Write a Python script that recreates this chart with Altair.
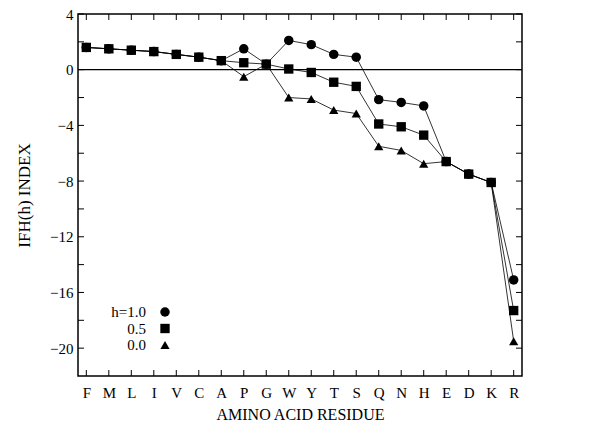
import altair as alt
import pandas as pd

residues = ["F", "M", "L", "I", "V", "C", "A", "P", "G", "W",
            "Y", "T", "S", "Q", "N", "H", "E", "D", "K", "R"]
h10 = [1.6, 1.5, 1.4, 1.3, 1.1, 0.9, 0.65, 1.5, 0.4, 2.1,
       1.8, 1.1, 0.9, -2.15, -2.35, -2.6, -6.6, -7.5, -8.1, -15.1]
h05 = [1.6, 1.5, 1.4, 1.3, 1.1, 0.9, 0.65, 0.5, 0.4, 0.05,
       -0.2, -0.9, -1.2, -3.9, -4.1, -4.7, -6.6, -7.5, -8.1, -17.3]
h00 = [1.6, 1.5, 1.4, 1.3, 1.1, 0.9, 0.65, -0.5, 0.4, -2.0,
       -2.1, -2.9, -3.15, -5.5, -5.8, -6.75, -6.6, -7.5, -8.1, -19.5]
h_levels = ["1.0", "0.5", "0.0"]
legend_labels = ["h=1.0", "0.5", "0.0"]
y_labels = [4, 0, -4, -8, -12, -16, -20]
y_minor = [4, 2, 0, -2, -4, -6, -8, -10, -12, -14, -16, -18, -20]

W, H = 444, 362
FONT = "Liberation Serif"

rows = []
for lvl, vals in zip(h_levels, [h10, h05, h00]):
    for r, v in zip(residues, vals):
        rows.append({"residue": r, "value": v, "h": lvl})
df = pd.DataFrame(rows)

xscale = alt.Scale(type="point", domain=residues, padding=0.37)
yscale = alt.Scale(domain=[-22, 4], nice=False, zero=False)
shape_scale = alt.Scale(domain=h_levels, range=["circle", "square", "triangle-up"])
size_scale = alt.Scale(domain=h_levels, range=[90, 85, 135])

xenc = alt.X("residue:N", scale=xscale, sort=residues,
             axis=alt.Axis(title="AMINO ACID RESIDUE", labelAngle=0, ticks=False,
                           domain=False, labelPadding=9, titlePadding=6,
                           labelFont=FONT, labelFontSize=15, titleFont=FONT,
                           titleFontSize=16, titleFontWeight="normal",
                           labelColor="black", titleColor="black"))
yenc = alt.Y("value:Q", scale=yscale,
             axis=alt.Axis(title="IFH(h) INDEX", values=y_labels, ticks=False,
                           domain=False, grid=False, labelPadding=5, titlePadding=16,
                           labelFont=FONT, labelFontSize=15, titleFont=FONT,
                           titleFontSize=17, titleFontWeight="normal",
                           labelColor="black", titleColor="black"))

base = alt.Chart(df)
lines = base.mark_line(color="black", strokeWidth=0.8).encode(
    x=xenc, y=yenc, detail="h:N")
points = base.mark_point(filled=True, color="black", opacity=1).encode(
    x=alt.X("residue:N", scale=xscale, sort=residues),
    y=alt.Y("value:Q", scale=yscale),
    shape=alt.Shape("h:N", scale=shape_scale, legend=None),
    size=alt.Size("h:N", scale=size_scale, legend=None))

zero = alt.Chart(pd.DataFrame({"value": [0]})).mark_rule(
    color="black", strokeWidth=1.2).encode(y=alt.Y("value:Q", scale=yscale))

ydf = pd.DataFrame({"value": y_minor})
lt = alt.Chart(ydf).mark_rule(color="black", strokeWidth=1).encode(
    y=alt.Y("value:Q", scale=yscale), x=alt.value(0), x2=alt.value(6))
rt = alt.Chart(ydf).mark_rule(color="black", strokeWidth=1).encode(
    y=alt.Y("value:Q", scale=yscale), x=alt.value(W - 6), x2=alt.value(W))

xdf = pd.DataFrame({"residue": residues})
bt = alt.Chart(xdf).mark_rule(color="black", strokeWidth=1).encode(
    x=alt.X("residue:N", scale=xscale, sort=residues), y=alt.value(H - 6), y2=alt.value(H))
tt = alt.Chart(xdf).mark_rule(color="black", strokeWidth=1).encode(
    x=alt.X("residue:N", scale=xscale, sort=residues), y=alt.value(0), y2=alt.value(6))

ldf = pd.DataFrame({"label": legend_labels, "h": h_levels, "i": [0, 1, 2]})
leg = alt.Chart(ldf).transform_calculate(py="298 + 16.5 * datum.i")
leg_text = leg.mark_text(align="right", baseline="middle", font=FONT, fontSize=15,
                         color="black").encode(
    x=alt.value(68), y=alt.Y("py:Q", scale=None), text="label:N")
leg_pts = leg.mark_point(filled=True, color="black", opacity=1).encode(
    x=alt.value(87), y=alt.Y("py:Q", scale=None),
    shape=alt.Shape("h:N", scale=shape_scale, legend=None),
    size=alt.Size("h:N", scale=size_scale, legend=None))

chart = alt.layer(zero, lines, points, lt, rt, bt, tt, leg_text, leg_pts).properties(
    width=W, height=H,
    autosize=alt.AutoSizeParams(type="none"),
    padding={"left": 78, "top": 14, "right": 85, "bottom": 49},
    background="white",
).configure_view(stroke="black", strokeWidth=1.5)

chart.save("out.html", embed_options={"renderer": "svg", "actions": False})
